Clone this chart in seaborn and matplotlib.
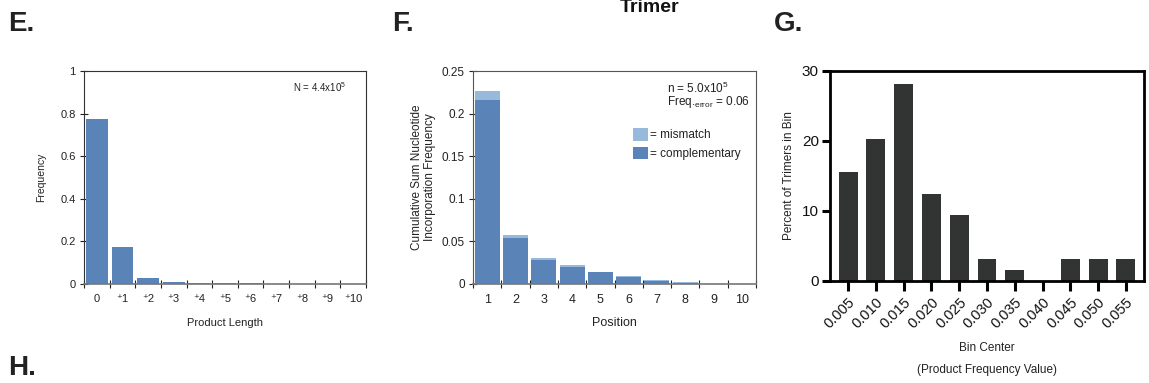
import matplotlib
matplotlib.use("Agg")
import matplotlib.pyplot as plt
import matplotlib.patches as mpatches
import seaborn as sns
import pandas as pd
import numpy as np

sns.set_theme(style="ticks")
plt.rcParams['font.family'] = ['Liberation Sans', 'DejaVu Sans']
plt.rcParams['mathtext.fontset'] = 'custom'
plt.rcParams['mathtext.rm'] = 'Liberation Sans'
plt.rcParams['mathtext.it'] = 'Liberation Sans:italic'
plt.rcParams['mathtext.bf'] = 'Liberation Sans:bold'

# ---- Panel E data ----
e_labels = ["0", "⁺1", "⁺2", "⁺3", "⁺4", "⁺5", "⁺6", "⁺7", "⁺8", "⁺9", "⁺10"]
e_freq = [0.775, 0.175, 0.030, 0.011, 0.006, 0.005, 0.004, 0.0015, 0.001, 0.0008, 0.0008]
e_yticks = [0, 0.2, 0.4, 0.6, 0.8, 1]
e_yticklabels = ["0", "0.2", "0.4", "0.6", "0.8", "1"]

# ---- Panel F data ----
f_positions = ["1", "2", "3", "4", "5", "6", "7", "8", "9", "10"]
f_complementary = [0.2155, 0.054, 0.028, 0.0202, 0.014, 0.0082, 0.0036, 0.0016, 0.0003, 0.0002]
f_total = [0.2268, 0.0575, 0.0306, 0.0224, 0.0143, 0.0094, 0.0047, 0.0023, 0.0004, 0.0003]
f_yticks = [0, 0.05, 0.1, 0.15, 0.2, 0.25]
f_yticklabels = ["0", "0.05", "0.1", "0.15", "0.2", "0.25"]

# ---- Panel G data ----
g_bins = ["0.005", "0.010", "0.015", "0.020", "0.025", "0.030",
          "0.035", "0.040", "0.045", "0.050", "0.055"]
g_percent = [15.625, 20.3125, 28.125, 12.5, 9.375, 3.125, 1.5625, 0.0, 3.125, 3.125, 3.125]
g_yticks = [0, 10, 20, 30]

blue = "#5a84b8"
light_blue = "#97b9dc"
dark = "#323434"

fig = plt.figure(figsize=(11.49, 3.83), dpi=100)
W, H = 1149, 383

def ax_at(l, t, r, b):
    return fig.add_axes([l / W, 1 - b / H, (r - l) / W, (b - t) / H])

# ================= Panel E =================
axE = ax_at(84, 71, 366, 284)
dfE = pd.DataFrame({"len": e_labels, "freq": e_freq})
sns.barplot(data=dfE, x="len", y="freq", color=blue, saturation=1, width=0.85,
            ax=axE, edgecolor="none", linewidth=0)
axE.set_xlim(-0.5, len(e_labels) - 0.5)
axE.set_ylim(0, 1)
axE.set_yticks(e_yticks)
axE.set_yticklabels(e_yticklabels)
axE.set_xticks(range(len(e_labels)))
axE.set_xticklabels(e_labels)
axE.set_xticks(np.arange(-0.5, len(e_labels), 1.0), minor=True)
axE.tick_params(axis="x", which="major", bottom=True, length=0, labelsize=8, pad=7, colors="#222222")
axE.tick_params(axis="x", which="minor", bottom=True, length=6, width=0.8, direction="inout", color="#222222")
axE.tick_params(axis="y", which="major", left=True, length=6, width=0.8, direction="inout", labelsize=8,
                color="#222222", labelcolor="#222222", pad=3)
for s in axE.spines.values():
    s.set_color("#333333")
    s.set_linewidth(0.8)
    s.set_visible(True)
axE.spines["bottom"].set_color("#777777")
axE.spines["bottom"].set_linewidth(1.2)
axE.set_xlabel("Product Length", fontsize=8, color="#222222", labelpad=10)
axE.set_ylabel("Frequency", fontsize=7.5, color="#222222", labelpad=10)
axE.text(0.74, 0.925, r"N = 4.4x10$^{5}$", transform=axE.transAxes, fontsize=7,
         color="#222222", va="center", ha="left")

# ================= Panel F =================
axF = ax_at(473, 71, 756, 284)
dfF = pd.DataFrame({"pos": f_positions, "total": f_total, "comp": f_complementary})
sns.barplot(data=dfF, x="pos", y="total", color=light_blue, saturation=1, width=0.88,
            ax=axF, edgecolor="none", linewidth=0)
sns.barplot(data=dfF, x="pos", y="comp", color=blue, saturation=1, width=0.88,
            ax=axF, edgecolor="none", linewidth=0)
axF.set_xlim(-0.5, len(f_positions) - 0.5)
axF.set_ylim(0, 0.25)
axF.set_yticks(f_yticks)
axF.set_yticklabels(f_yticklabels)
axF.set_xticks(range(len(f_positions)))
axF.set_xticklabels(f_positions)
axF.set_xticks(np.arange(-0.5, len(f_positions), 1.0), minor=True)
axF.tick_params(axis="x", which="major", bottom=True, length=0, labelsize=9, pad=7, colors="#222222")
axF.tick_params(axis="x", which="minor", bottom=True, length=6, width=0.8, direction="inout", color="#222222")
axF.tick_params(axis="y", which="major", left=True, length=6, width=0.8, direction="inout", labelsize=8.5,
                color="#222222", labelcolor="#222222", pad=3)
for s in axF.spines.values():
    s.set_color("#555555")
    s.set_linewidth(0.8)
    s.set_visible(True)
axF.spines["bottom"].set_color("#777777")
axF.spines["bottom"].set_linewidth(1.2)
axF.set_xlabel("Position", fontsize=9, color="#222222", labelpad=8)
axF.set_ylabel("Cumulative Sum Nucleotide\nIncorporation Frequency", fontsize=8.5,
               color="#222222", labelpad=4, linespacing=1.1)
axF.text(0.687, 0.92, r"n = 5.0x10$^{5}$", transform=axF.transAxes, fontsize=8.5,
         color="#222222", va="center", ha="left")
axF.text(0.687, 0.855, r"Freq.$_{\mathregular{error}}$ = 0.06", transform=axF.transAxes,
         fontsize=8.5, color="#222222", va="center", ha="left")
handles = [mpatches.Patch(facecolor=light_blue, edgecolor="none", label="= mismatch"),
           mpatches.Patch(facecolor=blue, edgecolor="none", label="= complementary")]
leg = axF.legend(handles=handles, loc="upper left", bbox_to_anchor=(0.535, 0.77),
                 frameon=False, fontsize=8.5, handlelength=1.3, handleheight=1.25,
                 handletextpad=0.15, labelspacing=0.45, borderpad=0.2)
for t in leg.get_texts():
    t.set_color("#222222")

# ================= Panel G =================
axG = ax_at(830, 71, 1144, 281)
dfG = pd.DataFrame({"bin": g_bins, "pct": g_percent})
sns.barplot(data=dfG, x="bin", y="pct", color=dark, saturation=1, width=0.68,
            ax=axG, edgecolor="none", linewidth=0)
axG.set_xlim(-0.65, len(g_bins) - 0.35)
axG.set_ylim(0, 30)
axG.set_yticks(g_yticks)
axG.set_xticks(range(len(g_bins)))
axG.set_xticklabels(g_bins, rotation=45, ha="right", rotation_mode="anchor")
axG.tick_params(axis="x", bottom=True, length=7, width=2.2, direction="out", labelsize=10.5, pad=3,
                color="black", labelcolor="#111111")
axG.tick_params(axis="y", left=True, length=6, width=2.2, direction="out", labelsize=11, pad=2,
                color="black", labelcolor="#111111")
for s in axG.spines.values():
    s.set_color("black")
    s.set_linewidth(2)
    s.set_visible(True)
axG.set_xlabel("Bin Center\n(Product Frequency Value)", fontsize=8.5, color="#222222",
               labelpad=8, linespacing=2.1)
axG.set_ylabel("Percent of Trimers in Bin", fontsize=8.5, color="#222222", labelpad=5)

# ================= Panel letters and title =================
for letter, x, y in [("E.", 8, 31), ("F.", 392, 31), ("G.", 774, 31), ("H.", 8, 375)]:
    fig.text(x / W, 1 - y / H, letter, fontsize=20, fontweight="bold",
             color="#222222", va="baseline", ha="left")
fig.text(650 / W, 1 - 12 / H, "Trimer", fontsize=14, fontweight="bold",
         color="#111111", va="baseline", ha="center")

fig.savefig("out.png", dpi=100)
